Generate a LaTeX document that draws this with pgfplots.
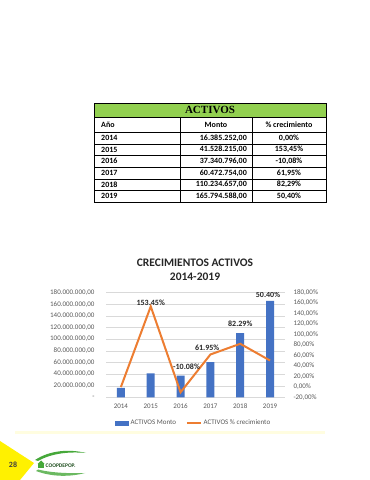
\documentclass[border=0pt]{standalone}
\usepackage{pgfplots}
\pgfplotsset{compat=1.18}
\usepackage{fontspec}
\setmainfont{Carlito}
\newfontfamily\timesfont{Liberation Serif}
\definecolor{xblue}{HTML}{4472C4}
\definecolor{xorange}{HTML}{ED7D31}
\definecolor{xgreen}{HTML}{92D050}
\definecolor{xgrid}{HTML}{D9D9D9}
\definecolor{xtick}{HTML}{595959}
\definecolor{xyellow}{HTML}{FFF100}
\definecolor{logogreen}{HTML}{46A83A}
\definecolor{logodark}{HTML}{1F4F1F}
\begin{document}
\begin{tikzpicture}[x=1pt,y=1pt]
\fill[white] (0,0) rectangle (370,480);
% ---------- table ----------
\fill[xgreen] (94,363) rectangle (326,377);
\foreach \yy in {363,348,336,324.5,313,301,289.5} \draw[line width=0.5pt] (94,\yy) -- (326,\yy);
\foreach \xx in {180,252} \draw[line width=0.5pt] (\xx,278) -- (\xx,363);
\draw[line width=0.8pt] (94,278) rectangle (326,377);
\node[font=\timesfont\bfseries\fontsize{11}{12}\selectfont] at (210,370) {ACTIVOS};
\tikzset{tb/.style={font=\bfseries\fontsize{8}{9}\selectfont, inner sep=0pt}}
\node[tb, anchor=west] at (101,355.5) {Año};
\node[tb] at (216,355.5) {Monto};
\node[tb] at (289,355.5) {\% crecimiento};
\node[tb, anchor=west] at (101,342) {2014};
\node[tb, anchor=east] at (247,342) {16.385.252,00};
\node[tb] at (289,342) {0,00\%};
\node[tb, anchor=west] at (101,330.25) {2015};
\node[tb, anchor=east] at (247,330.25) {41.528.215,00};
\node[tb] at (289,330.25) {153,45\%};
\node[tb, anchor=west] at (101,318.75) {2016};
\node[tb, anchor=east] at (247,318.75) {37.340.796,00};
\node[tb] at (289,318.75) {-10,08\%};
\node[tb, anchor=west] at (101,307) {2017};
\node[tb, anchor=east] at (247,307) {60.472.754,00};
\node[tb] at (289,307) {61,95\%};
\node[tb, anchor=west] at (101,295.25) {2018};
\node[tb, anchor=east] at (247,295.25) {110.234.657,00};
\node[tb] at (289,295.25) {82,29\%};
\node[tb, anchor=west] at (101,283.75) {2019};
\node[tb, anchor=east] at (247,283.75) {165.794.588,00};
\node[tb] at (289,283.75) {50,40\%};
% ---------- chart title ----------
\node[font=\bfseries\fontsize{11.5}{13}\selectfont, text=black!85] at (195,217) {CRECIMIENTOS ACTIVOS};
\node[font=\bfseries\fontsize{11.5}{13}\selectfont, text=black!85] at (195,203) {2014-2019};
% ---------- bars (left axis) ----------
\begin{axis}[
  at={(106pt,82.5pt)}, anchor=south west, scale only axis,
  width=179pt, height=105pt,
  xmin=-0.5, xmax=5.5, ymin=0, ymax=180,
  xtick={0,1,2,3,4,5}, xticklabels={2014,2015,2016,2017,2018,2019},
  ytick={0,20,40,60,80,100,120,140,160,180},
  yticklabels={{-\hspace{4pt}},{20.000.000,00},{40.000.000,00},{60.000.000,00},{80.000.000,00},{100.000.000,00},{120.000.000,00},{140.000.000,00},{160.000.000,00},{180.000.000,00}},
  ymajorgrids, grid style={xgrid, line width=0.6pt},
  axis line style={draw=none}, major tick length=0pt,
  tick label style={font=\fontsize{7}{8}\selectfont, text=xtick},
  yticklabel style={xshift=-8pt},
  xticklabel style={yshift=-3pt},
  ybar, bar width=8pt,
]
\addplot[fill=xblue, draw=none] coordinates {(0,16.385252) (1,41.528215) (2,37.340796) (3,60.472754) (4,110.234657) (5,165.794588)};
\end{axis}
% ---------- line (right axis) ----------
\begin{axis}[
  at={(106pt,82.5pt)}, anchor=south west, scale only axis,
  width=179pt, height=105pt,
  xmin=-0.5, xmax=5.5, ymin=-20, ymax=180,
  hide x axis, axis y line*=right,
  axis line style={draw=none}, major tick length=0pt,
  ytick={-20,0,20,40,60,80,100,120,140,160,180},
  yticklabels={{-20,00\%},{0,00\%},{20,00\%},{40,00\%},{60,00\%},{80,00\%},{100,00\%},{120,00\%},{140,00\%},{160,00\%},{180,00\%}},
  tick label style={font=\fontsize{7}{8}\selectfont, text=xtick},
  yticklabel style={anchor=west, xshift=5pt},
  legend style={at={(0.49,-0.243)}, anchor=center, draw=none, fill=none,
    legend columns=2, font=\fontsize{7}{8}\selectfont, text=xtick,
    /tikz/every even column/.append style={column sep=8pt}},
]
\addlegendimage{legend image code/.code={\fill[xblue] (0pt,-2pt) rectangle (13pt,2pt);}}
\addlegendentry{ACTIVOS Monto}
\addplot[xorange, line width=2pt, mark=none,
  legend image code/.code={\draw[xorange, line width=1.6pt] (0pt,0pt) -- (14pt,0pt);}]
  coordinates {(0,0) (1,153.45) (2,-10.08) (3,61.95) (4,82.29) (5,50.40)};
\addlegendentry{ACTIVOS \% crecimiento}
\tikzset{dl/.style={font=\bfseries\fontsize{8}{9}\selectfont, text=black!85}}
\node[dl] at (axis cs:1,160) {153.45\%};
\node[dl] at (axis cs:2.2,38) {-10.08\%};
\node[dl] at (axis cs:2.89,74.3) {61.95\%};
\node[dl] at (axis cs:4,120) {82.29\%};
\node[dl] at (axis cs:4.93,175.2) {50.40\%};
\end{axis}
% ---------- footer ----------
\fill[xyellow!12] (15,46) rectangle (325,49);
\fill[xyellow] (0,39) -- (34,17) -- (20,0) -- (0,0) -- cycle;
\node[font=\bfseries\fontsize{8}{9}\selectfont, text=black!75] at (13,15) {28};
\fill[logogreen] (35,20) .. controls (50,30) and (70,31) .. (86,27) .. controls (70,28.5) and (52,27) .. (38,19) -- cycle;
\fill[logogreen!80] (36,9) .. controls (52,3) and (70,3) .. (85,7) .. controls (70,6.5) and (52,7) .. (38,10.5) -- cycle;
\fill[logogreen] (38,12) rectangle (44,16);
\fill[logogreen] (37.5,16) -- (41,19.5) -- (44.5,16) -- cycle;
\node[font=\bfseries\fontsize{5.5}{6}\selectfont, text=logodark, anchor=west, inner sep=0pt] at (45.5,14) {COOPDEPOP.};
\end{tikzpicture}
\end{document}
